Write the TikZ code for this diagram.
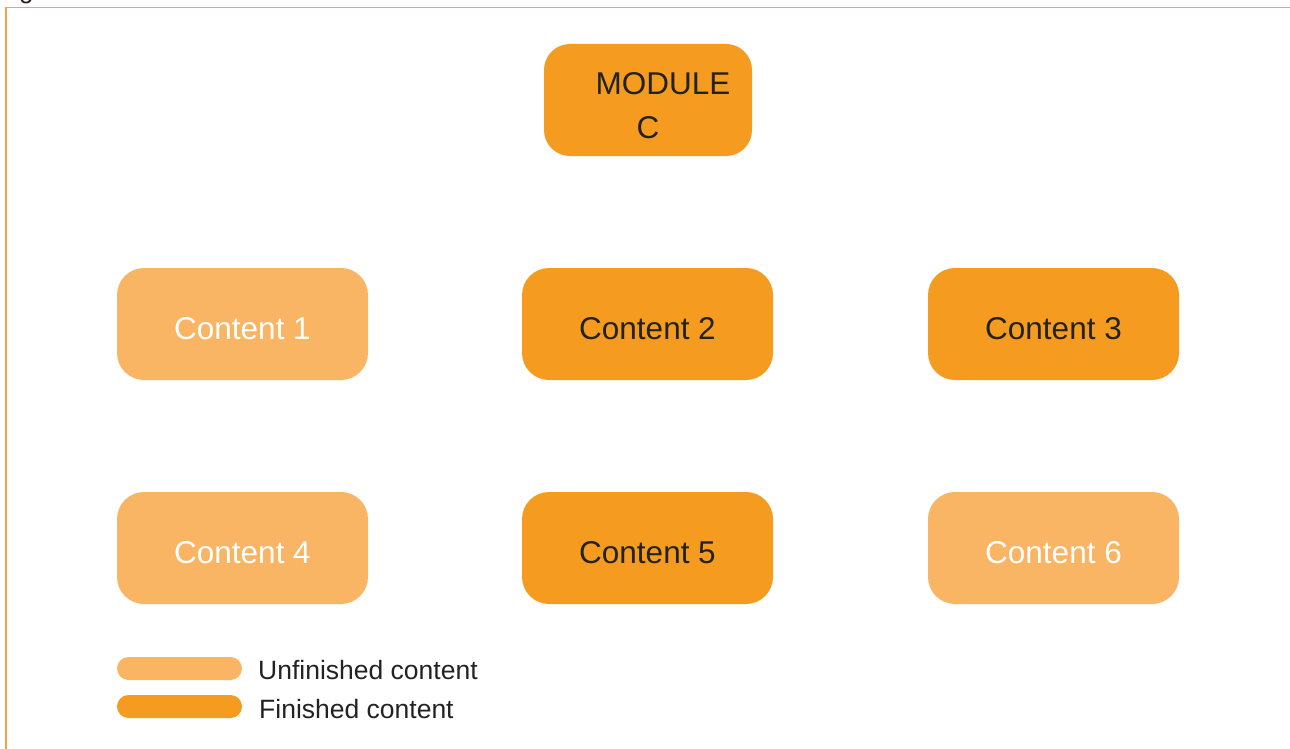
\documentclass[tikz,border=0pt]{standalone}
\usepackage{fontspec}
\setmainfont{Liberation Sans}
\definecolor{donefill}{HTML}{F59C20}
\definecolor{todofill}{HTML}{F9B563}
\definecolor{framecol}{HTML}{F4A444}
\definecolor{inktext}{HTML}{222222}
\tikzset{
  card/.style={rounded corners=27pt, minimum width=251pt, minimum height=112pt,
    inner sep=0pt, text height=30pt, text depth=0pt, font=\fontsize{31.5}{38}\selectfont},
  donecard/.style={card, fill=donefill, text=inktext},
  todocard/.style={card, fill=todofill, text=white},
  keybar/.style={rounded corners=11.5pt, minimum width=125pt, minimum height=23pt, inner sep=0pt},
  keytext/.style={anchor=west, inner sep=0pt, text=inktext, font=\fontsize{26.5}{32}\selectfont},
}
\begin{document}
\begin{tikzpicture}[x=1pt, y=-1pt]
  \useasboundingbox (0,0) rectangle (1290,749);
  \clip (0,0) rectangle (1290,749);
  % caption fragment above the frame
  \node[anchor=base west, inner sep=0pt, text=inktext, font=\fontsize{26}{30}\selectfont] (cap) at (19,-1.5) {g};
  % outer frame
  \draw[framecol, line width=1.6pt] (6,760) -- (6,7.5) -- (1300,7.5);
  % module header
  \node[fill=donefill, text=inktext, rounded corners=26pt, minimum width=208pt,
    minimum height=112pt, inner sep=0pt, font=\fontsize{31.5}{44}\selectfont] (mod) at (648,100)
    {\raisebox{-8pt}[\height][\depth]{\begin{tabular}{@{}c@{}}\hspace*{30pt}MODULE\\C\end{tabular}}};
  % content cards
  \node[todocard] (c1) at (242.5,324) {Content 1};
  \node[donecard] (c2) at (647.5,324) {Content 2};
  \node[donecard] (c3) at (1053.5,324) {Content 3};
  \node[todocard] (c4) at (242.5,548) {Content 4};
  \node[donecard] (c5) at (647.5,548) {Content 5};
  \node[todocard] (c6) at (1053.5,548) {Content 6};
  % legend
  \node[keybar, fill=todofill] (k1) at (179.5,668.5) {};
  \node[keybar, fill=donefill] (k2) at (179.5,706.5) {};
  \node[keytext] (t1) at (258,670) {Unfinished content};
  \node[keytext] (t2) at (259,709) {Finished content};
\end{tikzpicture}
\end{document}
